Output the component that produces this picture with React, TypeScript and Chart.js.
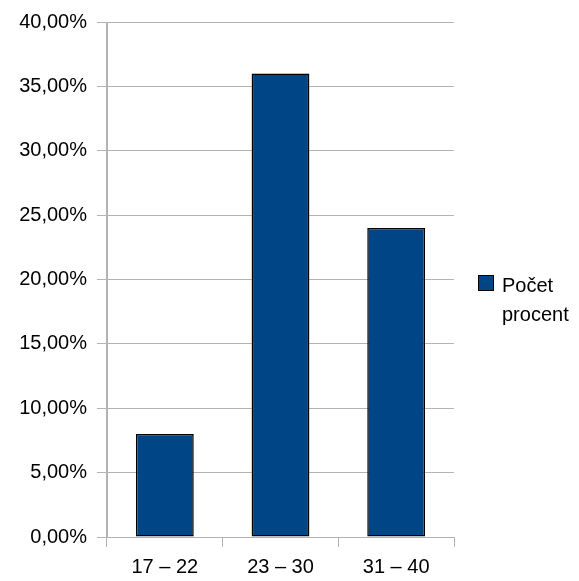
import React, { useEffect, useRef } from "react";
import { Chart, registerables } from "chart.js";

Chart.register(...registerables);

const categories = ["17 – 22", "23 – 30", "31 – 40"];
const seriesName = "Počet procent";
const legendLines = ["Počet", "procent"];
const values = [8, 36, 24];
const yMin = 0;
const yMax = 40;
const yStep = 5;

const FONT = '"Liberation Sans", Arial, sans-serif';
const GRID = "#b3b3b3";
const BAR = "#004586";

const legendPlugin = {
  id: "customLegend",
  afterDraw(chart: any) {
    const ctx = chart.ctx;
    const area = chart.chartArea;
    const x0 = area.right + 24;
    const y0 = 275;
    ctx.save();
    ctx.fillStyle = BAR;
    ctx.fillRect(x0, y0, 16, 16);
    ctx.strokeStyle = "#000";
    ctx.lineWidth = 1;
    ctx.strokeRect(x0 + 0.5, y0 + 0.5, 15, 15);
    ctx.fillStyle = "#000";
    ctx.font = `20px ${FONT}`;
    ctx.textBaseline = "alphabetic";
    ctx.textAlign = "left";
    legendLines.forEach((line, i) => {
      ctx.fillText(line, x0 + 24, 292 + i * 29);
    });
    ctx.restore();
  },
};

export default function App() {
  const ref = useRef<HTMLCanvasElement>(null);
  useEffect(() => {
    if (!ref.current) return;
    const chart = new Chart(ref.current, {
      type: "bar",
      data: {
        labels: categories,
        datasets: [
          {
            label: seriesName,
            data: values,
            backgroundColor: BAR,
            borderColor: "#000",
            borderWidth: 1.5,
            borderSkipped: false,
            categoryPercentage: 1,
            barPercentage: 0.5,
          },
        ],
      },
      options: {
        animation: false,
        responsive: false,
        layout: { padding: { left: 0, top: 21, right: 125, bottom: 0 } },
        plugins: { legend: { display: false }, tooltip: { enabled: false } },
        scales: {
          x: {
            offset: true,
            grid: {
              offset: true,
              color: (c: any) => (c.index === 0 || c.index === categories.length ? GRID : "rgba(0,0,0,0)"),
              tickColor: GRID,
              tickLength: 10,
              lineWidth: 1,
            },
            border: { display: true, color: GRID },
            ticks: { color: "#000", font: { size: 20, family: FONT }, padding: 8 },
            afterFit: (s: any) => {
              s.height = 44;
            },
          },
          y: {
            min: yMin,
            max: yMax,
            grid: { color: GRID, tickColor: GRID, tickLength: 10, lineWidth: 1 },
            border: { display: true, color: GRID },
            ticks: {
              stepSize: yStep,
              color: "#000",
              font: { size: 20, family: FONT },
              padding: 10,
              callback: (v: any) => Number(v).toFixed(2).replace(".", ",") + "%",
            },
            afterFit: (s: any) => {
              s.width = 107;
            },
          },
        },
      },
      plugins: [legendPlugin],
    });
    return () => chart.destroy();
  }, []);
  return (
    <div style={{ position: "absolute", left: 0, top: 0, width: 579, height: 581, background: "#fff" }}>
      <canvas ref={ref} width={579} height={581} style={{ width: 579, height: 581, display: "block" }} />
    </div>
  );
}
